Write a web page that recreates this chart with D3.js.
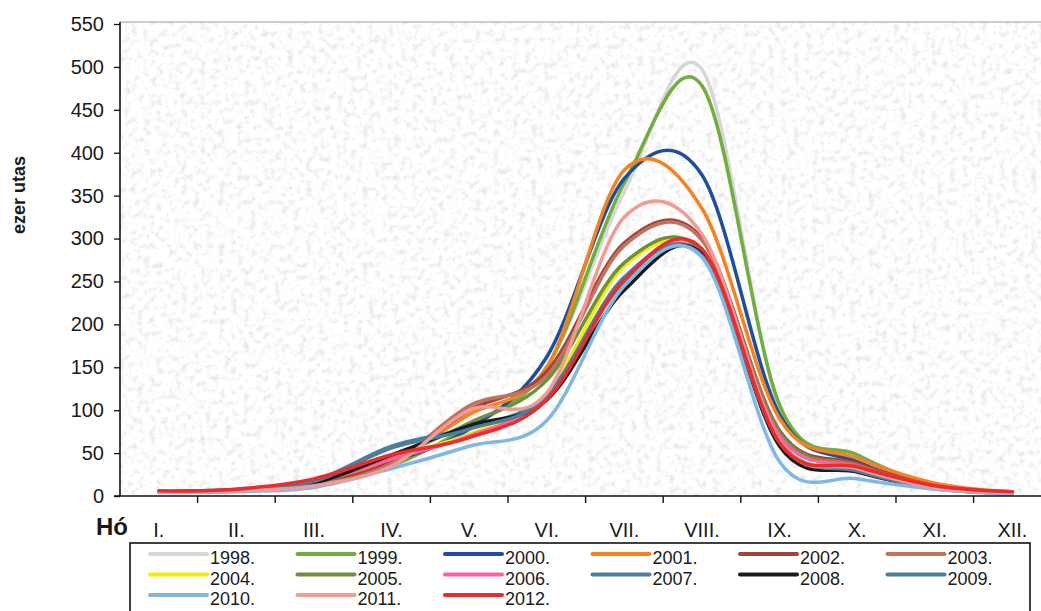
<!DOCTYPE html>
<html>
<head>
<meta charset="utf-8">
<script src="https://cdn.jsdelivr.net/npm/d3@7"></script>
<style>
  html, body { margin: 0; padding: 0; background: #ffffff; }
  svg { display: block; }
  text { font-family: "Liberation Sans", Arial, sans-serif; }
</style>
</head>
<body>
<svg id="chart" width="1041" height="611"></svg>
<script>
// ---------- DATA ----------
const months = ["I.", "II.", "III.", "IV.", "V.", "VI.", "VII.", "VIII.", "IX.", "X.", "XI.", "XII."];
const yTicks = [0, 50, 100, 150, 200, 250, 300, 350, 400, 450, 500, 550];
const years = ["1998.", "1999.", "2000.", "2001.", "2002.", "2003.", "2004.", "2005.", "2006.", "2007.", "2008.", "2009.", "2010.", "2011.", "2012."];
const colors = ["#d6d6d6", "#6fae3f", "#1f4e9e", "#f58220", "#a0443a", "#c0735e", "#f2ee00", "#6e8f3c", "#ff5fa0", "#4a7f9e", "#1a1a1a", "#4d7d99", "#82b7e3", "#f29a96", "#ec2b2b"];

const v1998 = [5, 6, 14, 38, 80, 150, 355, 497, 102, 48, 12, 4];
const v1999 = [5, 6, 12, 35, 82, 150, 365, 478, 106, 48, 12, 3];
const v2000 = [5, 7, 14, 40, 78, 162, 370, 374, 95, 40, 12, 4];
const v2001 = [5, 7, 15, 42, 95, 150, 380, 335, 90, 44, 15, 5];
const v2002 = [5, 6, 13, 40, 100, 145, 295, 300, 76, 38, 12, 4];
const v2003 = [5, 6, 12, 38, 105, 140, 292, 298, 74, 36, 12, 4];
const v2004 = [5, 7, 16, 45, 72, 120, 268, 280, 70, 33, 10, 3];
const v2005 = [5, 7, 15, 45, 85, 135, 272, 285, 74, 34, 10, 3];
const v2006 = [5, 7, 16, 43, 70, 115, 255, 282, 70, 34, 10, 4];
const v2007 = [5, 8, 18, 58, 80, 118, 255, 280, 64, 29, 9, 3];
const v2008 = [5, 7, 15, 48, 82, 112, 240, 282, 58, 28, 9, 3];
const v2009 = [5, 7, 17, 56, 78, 115, 250, 280, 62, 29, 9, 3];
const v2010 = [4, 5, 10, 32, 58, 88, 245, 278, 40, 20, 8, 2];
const v2011 = [5, 6, 12, 35, 100, 120, 325, 305, 64, 32, 10, 4];
const v2012 = [6, 8, 20, 48, 68, 112, 252, 288, 62, 34, 12, 5];

const seriesValues = [v1998, v1999, v2000, v2001, v2002, v2003, v2004, v2005, v2006, v2007, v2008, v2009, v2010, v2011, v2012];
const series = years.map((y, i) => ({ name: y, color: colors[i], values: seriesValues[i] }));

// ---------- LAYOUT ----------
const svg = d3.select("#chart");
const plotLeft = 120, plotRight = 1041, plotTop = 22, plotBottom = 496;

const x = d3.scaleBand().domain(months).range([plotLeft, plotLeft + 12 * 77.6]).padding(0);
const y = d3.scaleLinear().domain([0, 550]).range([plotBottom, 24]);

// speckled background
const defs = svg.append("defs");
const f = defs.append("filter").attr("id", "speckle")
  .attr("x", 0).attr("y", 0).attr("width", 1).attr("height", 1);
f.append("feTurbulence").attr("type", "fractalNoise").attr("baseFrequency", 0.16)
  .attr("numOctaves", 3).attr("seed", 4).attr("result", "noise");
f.append("feColorMatrix").attr("type", "matrix")
  .attr("values", "0.55 0 0 0 0.71  0.55 0 0 0 0.71  0.55 0 0 0 0.71  0 0 0 0 1");

defs.append("clipPath").attr("id", "plotclip").append("rect")
  .attr("x", plotLeft).attr("y", plotTop - 10).attr("width", plotRight - plotLeft).attr("height", plotBottom - plotTop + 10);

svg.append("rect")
  .attr("x", plotLeft).attr("y", plotTop)
  .attr("width", plotRight - plotLeft).attr("height", plotBottom - plotTop)
  .attr("fill", "#eee").attr("filter", "url(#speckle)");

// top border
svg.append("line").attr("x1", plotLeft).attr("x2", plotRight).attr("y1", plotTop).attr("y2", plotTop)
  .attr("stroke", "#9a9a9a").attr("stroke-width", 1);

// ---------- LINES ----------
const line = d3.line()
  .x((d, i) => x(months[i]) + x.bandwidth() / 2)
  .y(d => y(d))
  .curve(d3.curveCardinal.tension(0));

svg.append("g").attr("clip-path", "url(#plotclip)")
  .selectAll("path").data(series).join("path")
  .attr("d", d => line(d.values))
  .attr("fill", "none")
  .attr("stroke", d => d.color)
  .attr("stroke-width", 3.5)
  .attr("stroke-linejoin", "round")
  .attr("stroke-linecap", "round");

// ---------- AXES ----------
const yAxis = d3.axisLeft(y).tickValues(yTicks).tickSize(6).tickPadding(10);
const gy = svg.append("g").attr("transform", `translate(${plotLeft},0)`).call(yAxis);
gy.select(".domain").attr("stroke", "#111").attr("stroke-width", 1.6).attr("d", `M0,${plotBottom}V${plotTop}`);
gy.selectAll(".tick line").attr("stroke", "#111").attr("stroke-width", 1.3);
gy.selectAll(".tick text").attr("font-size", 20).attr("fill", "#1a1a1a")
  .attr("font-family", "'Liberation Sans', Arial, sans-serif");

// x axis: line with ticks at category boundaries
const gx = svg.append("g");
gx.append("line").attr("x1", plotLeft - 6).attr("x2", plotRight).attr("y1", plotBottom).attr("y2", plotBottom)
  .attr("stroke", "#111").attr("stroke-width", 1.6);
gx.selectAll("line.tk").data(months.slice(1)).join("line").attr("class", "tk")
  .attr("x1", d => x(d)).attr("x2", d => x(d))
  .attr("y1", plotBottom).attr("y2", plotBottom + 7)
  .attr("stroke", "#111").attr("stroke-width", 1.4);
gx.selectAll("text.ml").data(months).join("text").attr("class", "ml")
  .attr("x", d => x(d) + x.bandwidth() / 2)
  .attr("y", 537)
  .attr("text-anchor", "middle")
  .attr("font-size", 20)
  .attr("fill", "#1a1a1a")
  .text(d => d);

svg.append("text").attr("x", 112).attr("y", 535).attr("text-anchor", "middle")
  .attr("font-size", 24).attr("font-weight", "bold").attr("fill", "#1a1a1a").text("Hó");

svg.append("text")
  .attr("transform", "translate(25,195) rotate(-90)")
  .attr("text-anchor", "middle")
  .attr("font-size", 18).attr("font-weight", "bold").attr("fill", "#1a1a1a")
  .text("ezer utas");

// ---------- LEGEND ----------
const lg = svg.append("g");
lg.append("rect").attr("x", 130).attr("y", 543).attr("width", 900).attr("height", 90)
  .attr("fill", "#fff").attr("stroke", "#111").attr("stroke-width", 1.6);

const colW = 147.5, rowH = 20.5;
const items = lg.selectAll("g.item").data(series).join("g").attr("class", "item")
  .attr("transform", (d, i) => `translate(${150 + (i % 6) * colW},${557 + Math.floor(i / 6) * rowH})`);
items.append("line").attr("x1", 0).attr("x2", 57).attr("y1", -3).attr("y2", -3)
  .attr("stroke", d => d.color).attr("stroke-width", 4).attr("stroke-linecap", "round");
items.append("text")
  .attr("x", 60).attr("y", 7)
  .attr("font-size", 18).attr("fill", "#1a1a1a")
  .text(d => d.name);
</script>
</body>
</html>
